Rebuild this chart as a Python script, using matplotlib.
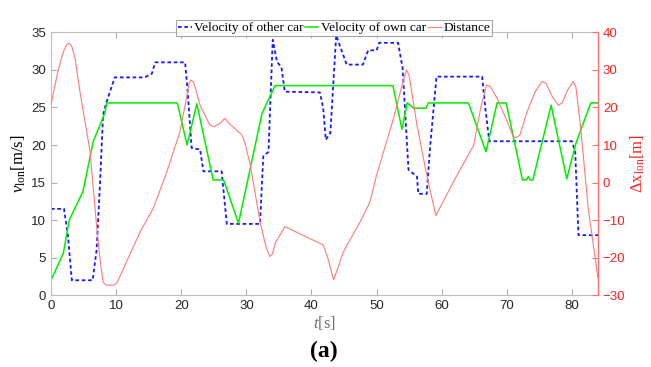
import matplotlib
matplotlib.use("Agg")
import matplotlib.pyplot as plt

# Velocity of other car (step-ish, dashed blue)
t_other = [0, 2.0, 2.6, 3.2, 6.4, 7.0, 7.5, 8.0, 8.45, 9.8, 14.4, 15.5, 16.0, 20.6, 21.0, 21.6,
           22.9, 23.4, 26.2, 27.0, 32.1, 32.6, 33.4, 34.05, 34.7, 35.4, 35.9, 41.3, 41.8, 42.2,
           42.9, 43.8, 45.4, 47.9, 48.7, 50.0, 50.4, 53.3, 54.0, 54.9, 56.2, 56.4, 57.7, 58.2,
           59.2, 66.2, 66.7, 67.3, 80.0, 80.5, 81.0, 84.0]
v_other = [11.5, 11.5, 8.0, 2.0, 2.0, 6.0, 14.3, 24.0, 25.5, 29.0, 29.0, 29.5, 31.0, 31.0, 27.0, 19.6,
           19.4, 16.5, 16.5, 9.5, 9.5, 18.5, 19.1, 34.0, 31.1, 30.3, 27.1, 27.0, 24.9, 20.7,
           21.6, 34.6, 30.7, 30.7, 32.6, 32.6, 33.6, 33.6, 30.2, 16.7, 15.8, 13.5, 13.5, 19.6,
           29.1, 29.1, 24.9, 20.5, 20.5, 19.1, 8.0, 8.0]

# Velocity of own car (solid green)
t_own = [0, 1.9, 2.8, 4.9, 6.5, 8.3, 8.55, 19.4, 20.9, 22.4, 24.9, 26.5, 28.8, 32.4, 34.4,
         52.5, 53.9, 54.7, 55.7, 57.6, 57.95, 64.1, 66.8, 68.5, 69.9, 72.4, 73.0, 73.3, 73.6,
         74.0, 76.8, 79.2, 80.6, 82.5, 82.9, 84.0]
v_own = [2.0, 5.6, 10.0, 13.8, 20.5, 24.3, 25.6, 25.6, 20.0, 25.5, 15.35, 15.35, 9.6, 24.2, 27.9,
         27.9, 22.1, 25.6, 24.9, 24.9, 25.6, 25.6, 19.1, 25.6, 25.6, 15.35, 15.35, 15.8, 15.35,
         15.35, 25.3, 15.5, 20.2, 24.7, 25.6, 25.6]

# Distance (thin light red, right axis)
t_dist = [0, 0.5, 1.0, 1.5, 2.0, 2.4, 2.8, 3.2, 3.7, 4.45, 5.0, 5.5, 6.0, 7.0, 7.5, 8.0, 8.5,
          9.7, 10.1, 13.7, 15.7, 17.8, 19.8, 20.8, 21.2, 21.5, 21.9, 22.9, 24.4, 25.0, 26.0,
          26.7, 27.5, 28.5, 29.3, 29.8, 30.6, 32.1, 33.0, 33.6, 34.0, 34.5, 34.9, 35.9, 41.8,
          42.5, 43.4, 44.0, 44.9, 47.5, 49.0, 50.0, 52.6, 54.0, 54.6, 55.0, 56.2, 57.7, 59.1,
          61.8, 64.9, 66.0, 66.9, 67.5, 68.5, 70.0, 71.0, 71.5, 72.0, 73.1, 74.3, 75.4, 76.0,
          77.0, 77.9, 78.5, 79.3, 80.2, 80.6, 81.3, 82.5, 84.0]
d_dist = [20.6, 25.0, 29.0, 32.5, 35.2, 36.7, 37.1, 36.3, 33.0, 24.2, 18.5, 13.5, 8.2, -11.3,
          -20.0, -26.5, -27.3, -27.3, -26.8, -13.1, -6.9, 2.9, 13.5, 22.4, 26.5, 27.3, 26.8,
          20.6, 15.3, 14.9, 15.8, 17.1, 15.5, 14.0, 12.7, 10.5, 4.7, -10.4, -17.0, -19.7, -19.0,
          -15.8, -14.8, -11.7, -16.6, -20.0, -25.9, -23.0, -18.4, -10.4, -5.1, 2.0, 17.1, 26.5,
          30.0, 28.5, 15.3, 2.0, -8.8, 0.2, 9.9, 20.0, 26.0, 25.5, 22.4, 16.5, 12.2, 12.0, 12.6,
          18.8, 24.0, 26.9, 26.5, 22.8, 20.6, 21.2, 24.5, 26.9, 25.5, 15.3, -6.9, -25.5]

plt.rcParams['font.family'] = ['Liberation Sans', 'DejaVu Sans']
plt.rcParams['mathtext.fontset'] = 'custom'
plt.rcParams['mathtext.rm'] = 'Liberation Serif'
plt.rcParams['mathtext.it'] = 'Liberation Serif:italic'

fig = plt.figure(figsize=(6.51, 3.67), dpi=100)
ax = fig.add_axes([0.0783, 0.1954, 0.8403, 0.7166])
ax2 = ax.twinx()

l1, = ax.plot(t_other, v_other, color='#1a1aff', ls=(0, (2, 1.5)), lw=1.3, label='Velocity of other car')
l2, = ax.plot(t_own, v_own, color='#00ee00', lw=1.1, label='Velocity of own car')
l3, = ax2.plot(t_dist, d_dist, color='#ff7a7a', lw=0.8, label='Distance')

ax.set_xlim(0, 84)
ax.set_ylim(0, 35)
ax2.set_ylim(-30, 40)
ax.set_xticks(range(0, 81, 10))
ax.set_yticks(range(0, 36, 5))
ax2.set_yticks(range(-30, 41, 10))

for s in ['left', 'bottom', 'top']:
    ax.spines[s].set_color('#c0c0c0')
for s in ['left', 'bottom', 'top']:
    ax2.spines[s].set_visible(False)
ax2.spines['right'].set_color('#ff7070')
ax.tick_params(axis='both', direction='in', length=4, labelsize=9.5, labelcolor='#262626',
               color='#b0b0b0', top=True, right=False)
ax2.tick_params(axis='y', direction='in', length=4, labelsize=9.5, labelcolor='#ff2020',
                color='#ff7070')

ax.set_ylabel(r'$v_{\mathrm{lon}}$[m/s]', fontsize=12, family='Liberation Serif', labelpad=2)
ax2.set_ylabel(r'$\Delta\mathrm{x}_{\mathrm{lon}}$[m]', fontsize=12, family='Liberation Serif',
               color='#ff2020', labelpad=2)
ax.set_xlabel(r'$t$[s]', fontsize=12, family='Liberation Serif', color='#707070', labelpad=1)

fig.text(0.498, 0.041, '(a)', fontsize=17, fontweight='bold', family='Liberation Serif',
         ha='center', va='center')

leg = ax.legend(handles=[l1, l2, l3], loc='lower center', bbox_to_anchor=(0.518, 0.985),
                ncol=3, frameon=True, fancybox=False,
                prop={'family': 'Liberation Serif', 'size': 9.6},
                handlelength=1.0, handletextpad=0.2, columnspacing=0.1,
                borderpad=0.15, borderaxespad=0)
leg.get_frame().set_edgecolor('#909090')
leg.get_frame().set_linewidth(0.8)

fig.savefig('out.png', dpi=100)
